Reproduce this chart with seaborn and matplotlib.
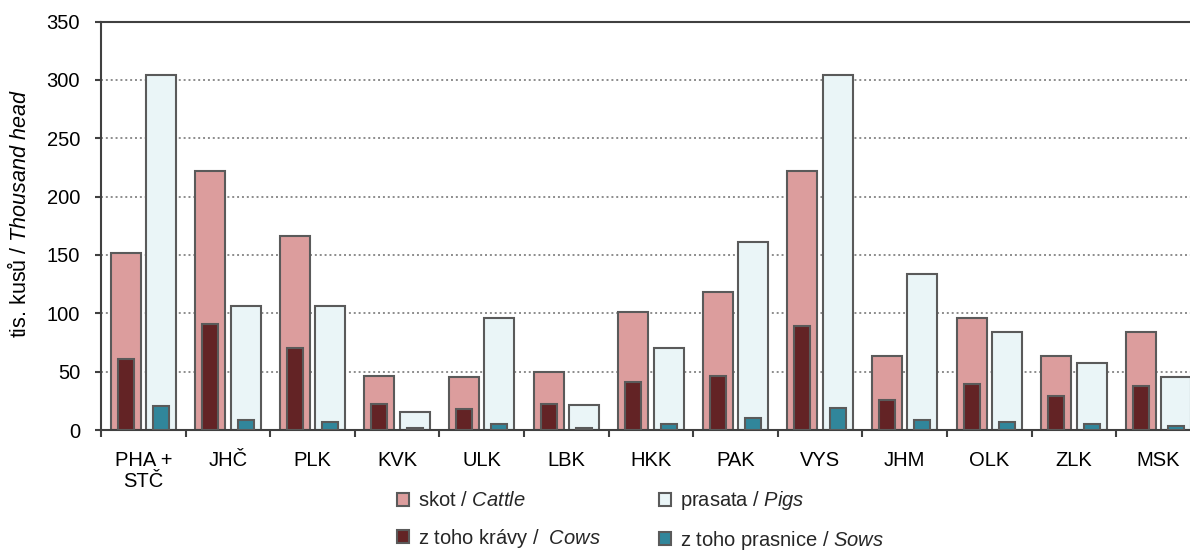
import matplotlib
matplotlib.use("Agg")
import matplotlib.pyplot as plt
import seaborn as sns
import pandas as pd
import numpy as np
from matplotlib.patches import Patch

regions = ["PHA +\nSTČ", "JHČ", "PLK", "KVK", "ULK", "LBK", "HKK", "PAK", "VYS", "JHM", "OLK", "ZLK", "MSK"]
cattle = [152, 222, 166, 46, 45, 50, 101, 118, 222, 63, 96, 63, 84]
cows = [61, 91, 70, 22, 18, 22, 41, 46, 89, 26, 39, 29, 38]
pigs = [304, 106, 106, 15, 96, 21, 70, 161, 304, 134, 84, 57, 45]
sows = [20.5, 8.5, 7, 1.5, 5, 1.5, 5, 10, 19, 8.5, 7, 5, 3.5]

lab_cattle = "skot / $\\mathit{Cattle}$"
lab_pigs = "prasata / $\\mathit{Pigs}$"
lab_cows = "z toho krávy /  $\\mathit{Cows}$"
lab_sows = "z toho prasnice / $\\mathit{Sows}$"

c_cattle = "#DC9D9D"
c_pigs = "#EAF5F7"
c_cows = "#632325"
c_sows = "#31869B"
edge = "#5A5A5A"
FS = 14.5

sns.set_theme(style="white")
plt.rcParams["font.family"] = ["Liberation Sans", "DejaVu Sans"]
plt.rcParams["mathtext.fontset"] = "custom"
plt.rcParams["mathtext.it"] = "Liberation Sans:italic"
plt.rcParams["mathtext.rm"] = "Liberation Sans"

wide = pd.DataFrame({
    "region": regions * 2,
    "value": cattle + pigs,
    "kind": ["cattle"] * len(regions) + ["pigs"] * len(regions),
})
narrow = pd.DataFrame({
    "region": regions * 2,
    "value": cows + sows,
    "kind": ["cattle"] * len(regions) + ["pigs"] * len(regions),
})

W, H = 1190, 553
fig = plt.figure(figsize=(W / 100, H / 100), dpi=100)
ax = fig.add_axes([101 / W, 1 - 430 / H, 1 - 101 / W, (430 - 21.5) / H])

sns.barplot(data=wide, x="region", y="value", hue="kind", order=regions,
            hue_order=["cattle", "pigs"], palette=[c_cattle, c_pigs],
            width=0.84, gap=0.155, edgecolor=edge, linewidth=1.5,
            saturation=1, legend=False, ax=ax, zorder=2)
sns.barplot(data=narrow, x="region", y="value", hue="kind", order=regions,
            hue_order=["cattle", "pigs"], palette=[c_cows, c_sows],
            width=0.84, gap=0.55, edgecolor=edge, linewidth=1.5,
            saturation=1, legend=False, ax=ax, zorder=3)

ax.set_ylim(0, 350)
ax.set_xlim(-0.5, -0.5 + (W - 101) / 84.6)
ax.set_yticks(np.arange(0, 351, 50))
ax.yaxis.grid(True, linestyle=(0, (1, 1.5)), color="#8C8C8C", linewidth=1.4, zorder=0)
ax.set_axisbelow(True)

for s in ["left", "bottom", "top"]:
    ax.spines[s].set_visible(True)
    ax.spines[s].set_color("#404040")
    ax.spines[s].set_linewidth(1.5)
ax.spines["right"].set_visible(False)

ax.set_xticks(np.arange(len(regions)))
ax.set_xticklabels(regions, fontsize=FS, color="#000000", linespacing=1.12)
ax.set_xticks(np.arange(len(regions)) - 0.5, minor=True)
ax.tick_params(axis="x", which="major", length=0, pad=15)
ax.tick_params(axis="x", which="minor", length=5, width=1.5, color="#404040", bottom=True)
ax.tick_params(axis="y", which="major", length=4, width=1.5, color="#404040", left=True,
               pad=11, labelsize=FS, labelcolor="#000000")
ax.set_xlabel("")
ax.set_ylabel("tis. kusů / $\\mathit{Thousand\\ head}$", fontsize=15.5, color="#000000")
ax.yaxis.set_label_coords((31 - 101) / 1089, (430 - 214) / 408.5)

def mk(fc, lab):
    return Patch(facecolor=fc, edgecolor=edge, linewidth=1.5, label=lab)

common = dict(ncol=1, loc="center left", frameon=False, fontsize=FS, handlelength=0.6,
              handleheight=0.6, handletextpad=0.45, labelspacing=0.8, borderpad=0,
              borderaxespad=0)
fig.legend(handles=[mk(c_cattle, lab_cattle), mk(c_cows, lab_cows)],
           bbox_to_anchor=(397 / W, 1 - 520.5 / H), **common)
fig.legend(handles=[mk(c_pigs, lab_pigs), mk(c_sows, lab_sows)],
           bbox_to_anchor=(659 / W, 1 - 520.5 / H), **common)

fig.savefig("out.png", dpi=100)
